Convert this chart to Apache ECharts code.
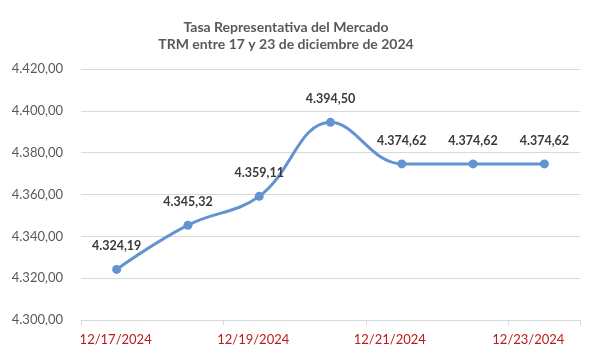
<!DOCTYPE html>
<html><head><meta charset="utf-8">
<script src="https://cdn.jsdelivr.net/npm/echarts@6/dist/echarts.min.js"></script>
<style>html,body{margin:0;padding:0;background:#fff}#c{width:601px;height:359px}</style>
</head><body><div id="c"></div>
<script>
var categories = ['12/17/2024','12/18/2024','12/19/2024','12/20/2024','12/21/2024','12/22/2024','12/23/2024'];
var trmValues = [4324.19, 4345.32, 4359.11, 4394.50, 4374.62, 4374.62, 4374.62];
var titleLines = ['Tasa Representativa del Mercado', 'TRM entre 17 y 23 de diciembre de 2024'];

function fmt(v){
  var s = v.toFixed(2).split('.');
  var ip = s[0].replace(/\B(?=(\d{3})+(?!\d))/g, '.');
  return ip + ',' + s[1];
}
var labelShift = {0:'p0', 2:'p1', 4:'p2', 6:'p3'};
var chart = echarts.init(document.getElementById('c'));
chart.setOption({
  animation:false,
  textStyle:{fontFamily:'Lato'},
  title:{
    text: titleLines.join('\n'),
    left: 281, top: 14, textAlign:'center',
    textStyle:{fontFamily:'Lato', fontSize:14, fontWeight:'bold', color:'#595959', lineHeight:17}
  },
  grid:{left:81, right:21, top:69, bottom:39, containLabel:false},
  xAxis:{
    type:'category', data:categories, boundaryGap:true,
    axisLine:{lineStyle:{color:'#d9d9d9', width:1}},
    axisTick:{show:true, interval:1, length:5, lineStyle:{color:'#d9d9d9'}},
    axisLabel:{interval:1, color:'#B81C1C', fontSize:13, margin:13, fontFamily:'Lato',
      formatter:function(v, i){ var k = labelShift[i] || 'p0'; return '{' + k + '|' + v + '}'; },
      rich:{
        p0:{color:'#B81C1C', fontSize:13, fontFamily:'Lato', padding:[0,2,0,0]},
        p1:{color:'#B81C1C', fontSize:13, fontFamily:'Lato', padding:[0,12,0,0]},
        p2:{color:'#B81C1C', fontSize:13, fontFamily:'Lato', padding:[0,24,0,0]},
        p3:{color:'#B81C1C', fontSize:13, fontFamily:'Lato', padding:[0,32,0,0]}
      }
    }
  },
  yAxis:{
    type:'value', min:4300, max:4420, interval:20,
    axisLine:{show:false}, axisTick:{show:false},
    splitLine:{lineStyle:{color:'#d9d9d9', width:1}},
    axisLabel:{formatter:fmt, color:'#595959', fontSize:13, margin:18, fontFamily:'Lato'}
  },
  series:[{
    type:'line', data:trmValues, smooth:0.4,
    symbol:'circle', symbolSize:9,
    lineStyle:{color:'#6393D1', width:3},
    itemStyle:{color:'#6393D1'},
    label:{show:true, position:'top', distance:12, formatter:function(p){return fmt(p.value);},
      fontSize:12.5, fontWeight:'bold', color:'#3a3a3a', fontFamily:'Lato'}
  }]
});
</script></body></html>
